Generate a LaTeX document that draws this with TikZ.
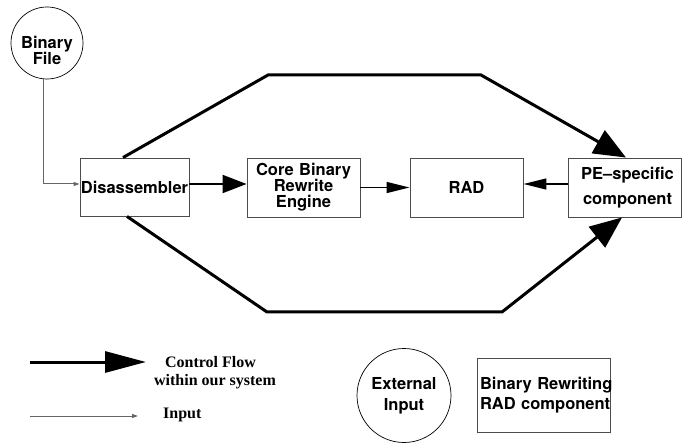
\documentclass[tikz,border=0pt]{standalone}
\usepackage{fontspec}
\setmainfont{Liberation Serif}
\newfontfamily\hv{TeX Gyre Heros}
\usetikzlibrary{arrows.meta,calc}
\definecolor{boxgray}{gray}{0.3}
\definecolor{ingray}{gray}{0.4}
\tikzset{
  comp/.style={draw=boxgray, line width=0.9pt, rectangle, inner sep=0pt, minimum width=#1, text width=#1, align=center, minimum height=59pt, font=\hv\bfseries\fontsize{16.5}{16}\selectfont},
  ext/.style={draw=black, line width=0.7pt, circle, inner sep=0pt, minimum size=#1},
  ctrl/.style={line width=2pt, -{Triangle[length=24pt,width=18pt]}},
  ctrlsmall/.style={line width=1.6pt, -{Triangle[length=23pt,width=11pt]}},
  flow/.style={line width=3pt, -{Triangle[length=32pt,width=26pt]}, line join=miter},
  inp/.style={draw=ingray, line width=1pt, -{Triangle[length=6pt,width=4pt]}},
  lbl/.style={font=\hv\bfseries\fontsize{16.5}{16}\selectfont, align=center, inner sep=0pt},
}
\begin{document}
\begin{tikzpicture}[x=1pt,y=-1pt]
\useasboundingbox (0,0) rectangle (682,443);
% external input
\node[ext=72pt] (bf) at (47,43) {};
\node[lbl] (bft) at (47,50) {Binary\\File};
% components
\node[comp=109pt, minimum height=58pt] (dis) at (134.5,187) {\mbox{Disassembler}};
\node[comp=113pt] (core) at (303.5,187.5) {Core Binary\\Rewrite\\Engine};
\node[comp=113pt] (rad) at (466.5,187.5) {RAD};
\node[comp=113pt, font=\hv\bfseries\fontsize{16.5}{25}\selectfont] (pe) at (624.5,187.5) {\hspace*{6pt}\mbox{PE–specific}\\\hspace*{6pt}\mbox{component}};
% input connector
\coordinate (bend) at (43,184);
\draw[inp] ([xshift=-4pt]bf.south) -- (bend) -- (dis.west |- bend);
% control flow
\draw[ctrl] (dis.east |- bend) -- (core.west |- bend);
\draw[ctrlsmall] (core.east) -- (rad.west);
\draw[ctrlsmall] (pe.west |- bend) -- (rad.east |- bend);
\coordinate (u1) at (268,75);
\coordinate (u2) at (481,75);
\coordinate (l1) at (267,312);
\coordinate (l2) at (502,312);
\draw[flow] ([xshift=-11.5pt]dis.north) -- (u1) -- (u2) -- ([xshift=1.5pt]pe.north);
\draw[flow] ([xshift=-7.5pt]dis.south) -- (l1) -- (l2) -- ([xshift=-2.5pt]pe.south);
% legend
\coordinate (c1) at (30,362);
\coordinate (c2) at (146,362);
\draw[line width=3pt, -{Triangle[length=41pt,width=21pt]}] (c1) -- (c2);
\node[font=\bfseries\fontsize{16}{18}\selectfont, align=center, inner sep=0pt] (cft) at (215,373) {\hspace*{-9pt}Control Flow\\within our system};
\coordinate (i1) at (30,416);
\coordinate (i2) at (138,416);
\draw[inp] (i1) -- (i2);
\node[font=\bfseries\fontsize{16}{18}\selectfont, anchor=west, inner sep=0pt] (it) at (163,415) {Input};
\node[ext=94pt, font=\hv\bfseries\fontsize{16.5}{21}\selectfont, align=center] (ei) at (404,395.5) {External\\Input};
\node[comp=133pt, minimum height=74pt, align=left, font=\hv\bfseries\fontsize{16.5}{20}\selectfont] (brr) at (543.5,395) {\hspace*{3pt}\mbox{Binary Rewriting}\\\hspace*{3pt}\mbox{RAD component}};
\end{tikzpicture}
\end{document}
